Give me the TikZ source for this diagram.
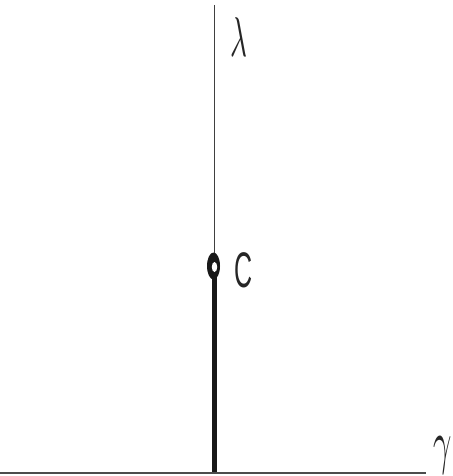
\documentclass[tikz,border=0pt]{standalone}
\usepackage{fontspec}
\newfontfamily\labelsans{Liberation Sans}
\usetikzlibrary{shapes.geometric}
\tikzset{
  thinaxis/.style={draw=black!75, line width=0.9pt},
  haxis/.style={draw=black!70, line width=1.8pt},
  thickstem/.style={draw=black!90, line width=4.8pt},
  markerC/.style={ellipse, fill=black!90, minimum width=13pt, minimum height=27pt, inner sep=0pt,
    path picture={\fill[white] ([xshift=1pt,yshift=-1pt]path picture bounding box.center) ellipse (2.7pt and 5pt);}},
  greeklabel/.style={inner sep=0pt, text=black!85},
  clabel/.style={inner sep=0pt, text=black!85, font=\labelsans\fontsize{50}{50}\selectfont}
}
\begin{document}
\begin{tikzpicture}[x=1pt,y=-1pt]
\useasboundingbox (0,0) rectangle (452,476);
\coordinate (vtop) at (214.5,5);
\coordinate (origin) at (214.5,473);
\coordinate (hleft) at (0,473);
\coordinate (hright) at (426,473);
\draw[thinaxis] (vtop) -- (origin);
\draw[thickstem] (214.5,270) -- (origin);
\draw[haxis] (hleft) -- (hright);
\node[markerC] (C) at (213.5,266) {};
\node[greeklabel] (lam) at (238.5,37.5) {\scalebox{2.9}[5.6]{$\lambda$}};
\node[clabel] (Clab) at (243.5,270) {\scalebox{0.5}[1]{C}};
\node[greeklabel] (gam) at (443,455) {\scalebox{3.2}[6.0]{$\gamma$}};
\end{tikzpicture}
\end{document}
